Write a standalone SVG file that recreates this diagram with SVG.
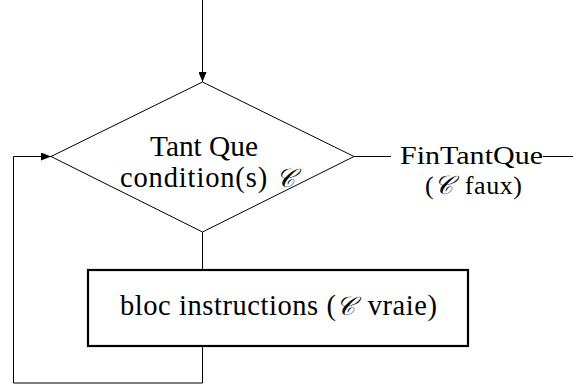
<svg xmlns="http://www.w3.org/2000/svg" width="573" height="385" viewBox="0 0 573 385">
<defs>
<marker id="arr" viewBox="0 0 10 8" refX="10" refY="4" markerWidth="10" markerHeight="8" markerUnits="userSpaceOnUse" orient="auto">
<path d="M0,0 L10,4 L0,8 Z" fill="#000"/>
</marker>
</defs>
<style>
.ln{fill:none;stroke:#000;stroke-width:1}
.t{font-family:"Liberation Serif","DejaVu Serif",serif;font-size:28.5px;fill:#000}
.r{font-size:26px}
.c{font-family:"DejaVu Serif","DejaVu Sans","Liberation Serif",serif;font-style:italic;font-size:26px}
</style>
<rect width="573" height="385" fill="#fff"/>
<g id="connectors">
<line class="ln" x1="202.5" y1="0" x2="202.5" y2="82" marker-end="url(#arr)"/>
<line class="ln" x1="354" y1="156.5" x2="391" y2="156.5"/>
<line class="ln" x1="543" y1="156.5" x2="573" y2="156.5"/>
<line class="ln" x1="202.5" y1="232" x2="202.5" y2="270"/>
<polyline class="ln" points="202.5,346 202.5,383 13.5,383 13.5,156.5 51,156.5" marker-end="url(#arr)"/>
</g>
<g id="decision">
<polygon class="ln" points="202.5,82 354,156.5 202.5,232 51,156.5"/>
<text class="t" x="204" y="156" text-anchor="middle" textLength="108" lengthAdjust="spacingAndGlyphs">Tant Que</text>
<text class="t" x="207.5" y="187" text-anchor="middle" textLength="175" lengthAdjust="spacing">condition(s) <tspan class="c">𝒞</tspan></text>
</g>
<g id="end">
<text class="t r" x="400" y="164" textLength="143" lengthAdjust="spacingAndGlyphs">FinTantQue</text>
<text class="t r" x="473.5" y="194" text-anchor="middle" textLength="97" lengthAdjust="spacing">(<tspan class="c">𝒞</tspan><tspan dx="4"> faux)</tspan></text>
</g>
<g id="block">
<rect x="88" y="270" width="380" height="76" fill="none" stroke="#000" stroke-width="2.2"/>
<text class="t" x="120" y="315" textLength="317" lengthAdjust="spacing">bloc instructions (<tspan class="c">𝒞</tspan><tspan dx="4"> vraie)</tspan></text>
</g>
</svg>
